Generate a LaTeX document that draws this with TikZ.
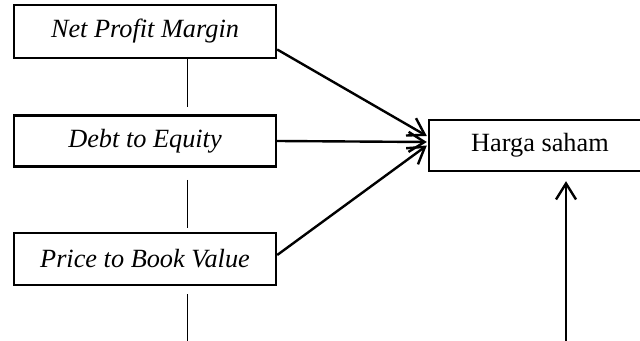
\documentclass[tikz,border=0pt]{standalone}
\usepackage{fontspec}
\setmainfont{Liberation Serif}[ItalicFont={Liberation Serif Italic}]
\usetikzlibrary{arrows.meta}
\usetikzlibrary{calc}

\begin{document}
\begin{tikzpicture}[x=0.5pt, y=-0.5pt,
    box/.style={draw, line width=1.2pt, minimum width=131pt, minimum height=26pt, inner sep=0pt, font=\fontsize{13.15}{15}\selectfont},
    arr/.style={line width=1.2pt, -{Straight Barb[length=8pt, width=10pt, line width=1.2pt]}},
    link/.style={line width=0.45pt}]
              \useasboundingbox (0,0) rectangle (640,341);

              \node[box, minimum height=26.5pt] (npm) at (145, 31.5) {\itshape Net Profit Margin};
              \node[box, minimum height=25.5pt] (dte) at (145, 141) {\itshape Debt to Equity};
              \node[box] (pbv) at (145, 259) {\itshape Price to Book Value};
              \node[box, minimum width=111pt, minimum height=25.5pt] (harga) at (540, 145.5) {Harga saham};

              \coordinate (l1) at (187, 107);
              \coordinate (l2a) at (187, 180);
              \coordinate (l2b) at (187, 228);
              \coordinate (l3a) at (187, 294);
              \coordinate (l3b) at (187, 341);
              \coordinate (base) at (566, 341);

              \draw[link] (l1 |- npm.south) -- (l1);
              \draw[link] (l2a) -- (l2b);
              \draw[link] (l3a) -- (l3b);

              \draw[arr] ([yshift=-9pt]npm.east) -- ([yshift=4.75pt, xshift=-0.5pt]harga.west);
              \draw[arr] (dte.east) -- ([yshift=1.75pt, xshift=-0.5pt]harga.west);
              \draw[arr] ([yshift=2pt]pbv.east) -- ([xshift=-0.5pt]harga.west);
              \draw[arr, shorten >=4.5pt] (base) -- (base |- harga.south);
            \end{tikzpicture}
\end{document}
